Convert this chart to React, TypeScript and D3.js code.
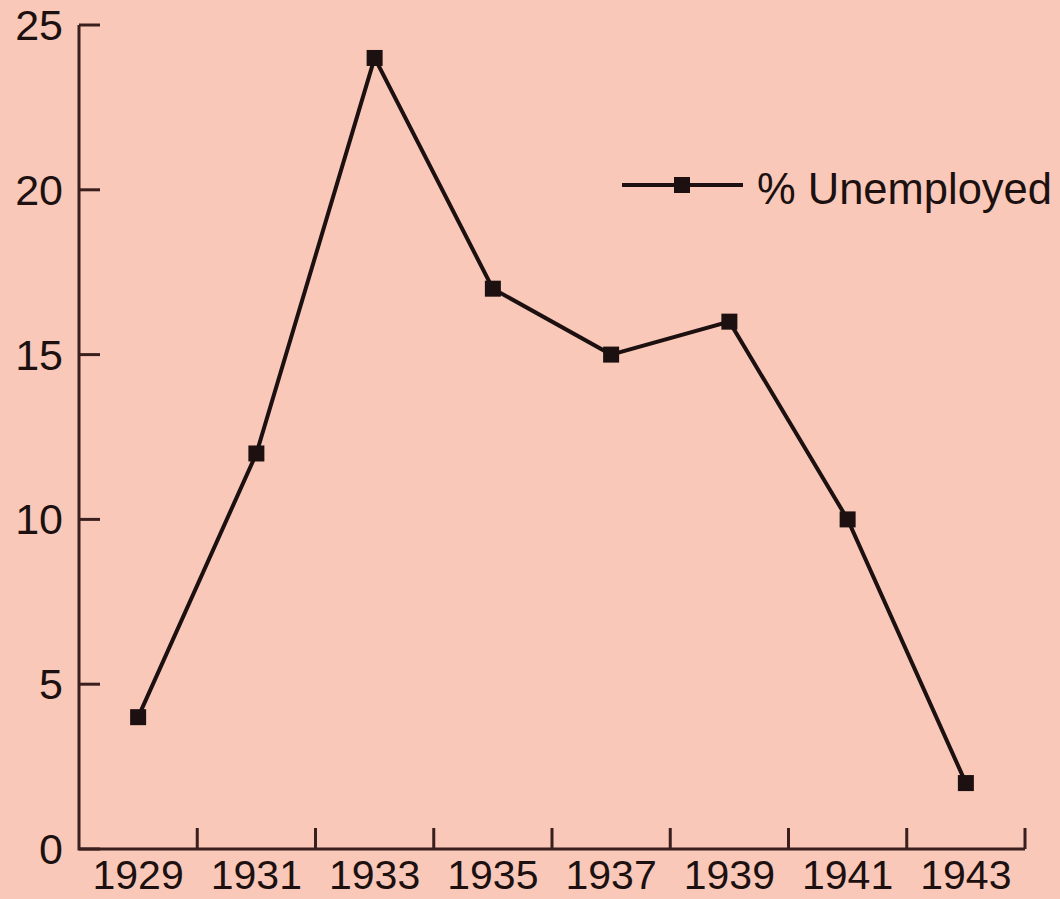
import React from "react";
import * as d3 from "d3";

const years = [1929, 1931, 1933, 1935, 1937, 1939, 1941, 1943];
const unemployed = [4, 12, 24, 17, 15, 16, 10, 2];
const xTicks = [1930, 1932, 1934, 1936, 1938, 1940, 1942, 1944];
const yTicks = [0, 5, 10, 15, 20, 25];
const seriesName = "% Unemployed";

const width = 1060;
const height = 899;
const bg = "#f9c8b8";
const ink = "#1c1010";
const axisInk = "#3a1f1f";
const font = "'Liberation Sans', Arial, Helvetica, sans-serif";

export default function App() {
  const x = d3.scaleLinear().domain([1928, 1944]).range([79, 1025]);
  const y = d3.scaleLinear().domain([0, 25]).range([849, 25]);

  const data = years.map((yr, i) => ({ year: yr, value: unemployed[i] }));
  const line = d3
    .line<{ year: number; value: number }>()
    .x((d) => x(d.year))
    .y((d) => y(d.value));

  const m = 16; // marker size

  return (
    <svg
      width={width}
      height={height}
      style={{ position: "absolute", left: 0, top: 0, background: bg }}
    >
      <rect width={width} height={height} fill={bg} />

      {/* axes */}
      <g stroke={axisInk} strokeWidth={3} fill="none">
        <path d={`M${x(1928)},${y(25)}V${y(0)}H${x(1944)}`} />
        {yTicks.map((t) => (
          <line key={t} x1={x(1928)} x2={x(1928) + 21} y1={y(t)} y2={y(t)} />
        ))}
        {xTicks.map((t) => (
          <line key={t} x1={x(t)} x2={x(t)} y1={y(0)} y2={y(0) - 21} />
        ))}
      </g>

      {/* y labels */}
      <g fontFamily={font} fontSize={43} fill={ink} textAnchor="end">
        {yTicks.map((t) => (
          <text key={t} x={63} y={y(t) + 15}>
            {t}
          </text>
        ))}
      </g>

      {/* x labels */}
      <g fontFamily={font} fontSize={41} fill={ink} textAnchor="middle">
        {years.map((yr) => (
          <text key={yr} x={x(yr)} y={889}>
            {yr}
          </text>
        ))}
      </g>

      {/* series */}
      <path d={line(data) ?? ""} fill="none" stroke={ink} strokeWidth={4} />
      {data.map((d) => (
        <rect
          key={d.year}
          x={x(d.year) - m / 2}
          y={y(d.value) - m / 2}
          width={m}
          height={m}
          fill={ink}
        />
      ))}

      {/* legend */}
      <g>
        <line x1={622} x2={743} y1={185} y2={185} stroke={ink} strokeWidth={4} />
        <rect x={682 - m / 2} y={185 - m / 2} width={m} height={m} fill={ink} />
        <text x={757} y={204} fontFamily={font} fontSize={43.5} fill={ink}>
          {seriesName}
        </text>
      </g>
    </svg>
  );
}
